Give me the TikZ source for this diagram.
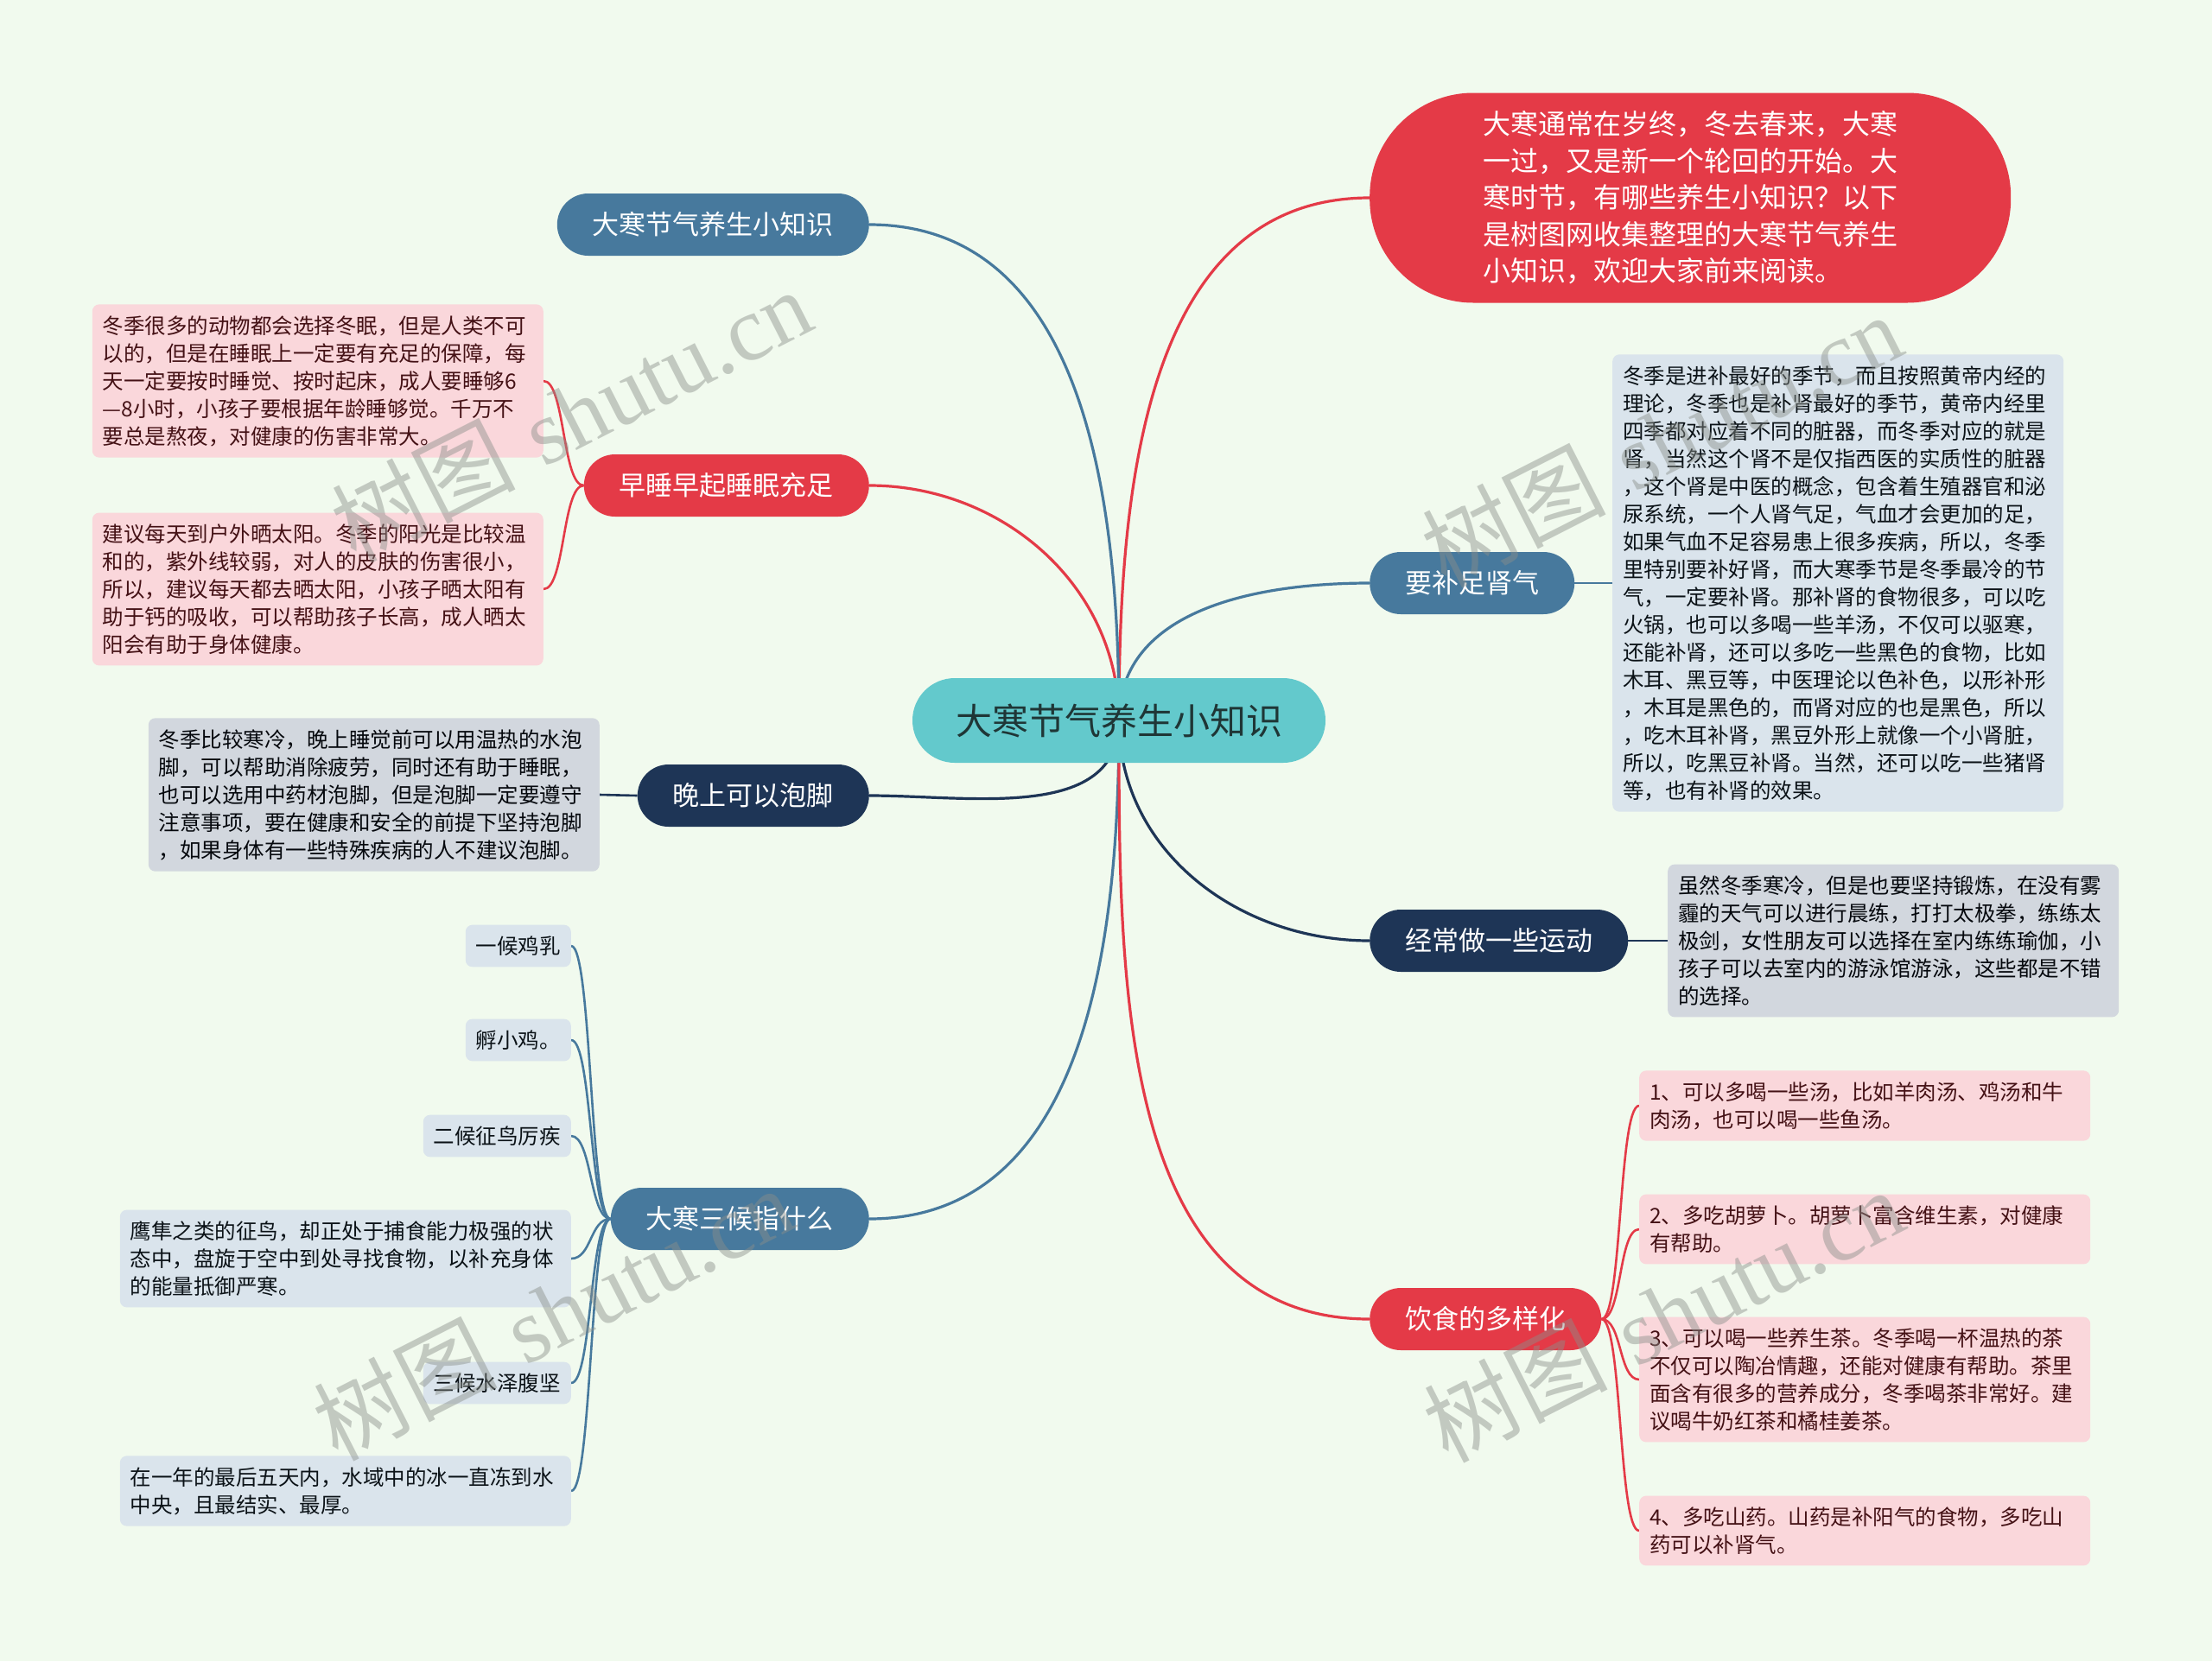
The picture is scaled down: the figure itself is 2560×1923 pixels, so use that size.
\documentclass[tikz,border=0pt]{standalone}
\usepackage{fontspec}
\setmainfont{Noto Sans CJK SC}
\newfontfamily\wmfont{Liberation Serif}
\usetikzlibrary{backgrounds}
\definecolor{bgcol}{HTML}{F1FAEE}
\definecolor{hanred}{HTML}{E43A47}
\definecolor{hanblue}{HTML}{47799D}
\definecolor{hannavy}{HTML}{1E3556}
\definecolor{hanteal}{HTML}{63C9CC}
\definecolor{hubtext}{HTML}{1F3636}
\definecolor{leafpink}{HTML}{FAD7DB}
\definecolor{leafblue}{HTML}{DAE4EC}
\definecolor{leafgray}{HTML}{D2D7DE}
\definecolor{wmgray}{HTML}{8A8F8A}

\begin{document}
\begin{tikzpicture}[
  x=1pt, y=1pt,
  hub/.style={fill=hanteal, rounded corners=49pt, minimum height=98pt, inner xsep=50pt, text=hubtext, font=\fontsize{42}{50}\selectfont},
  branch/.style={rounded corners=36pt, minimum height=72pt, inner xsep=41pt, inner ysep=0pt, text=white, font=\fontsize{31}{38}\selectfont},
  leaf/.style={rounded corners=8pt, inner xsep=12pt, inner ysep=13pt, align=left, font=\fontsize{24.5}{32}\selectfont},
  wide/.style={leaf, text width=498pt},
  redleaf/.style={fill=leafpink, text=black!70!hanred},
  blueleaf/.style={fill=leafblue, text=black!85!hanblue},
  grayleaf/.style={fill=leafgray, text=black!85!hannavy},
  link/.style={line width=3.2pt},
  twig/.style={line width=2.6pt},
  wmark/.style={rotate=27, text=wmgray, opacity=0.45, font=\fontsize{106}{106}\selectfont}
]
\useasboundingbox (0,0) rectangle (2560,-1923);

% centre and intro
\node[hub] (hub) at (1295,-834) {大寒节气养生小知识};
\node[branch, fill=hanred, anchor=west, minimum width=742pt, minimum height=243pt, rounded corners=120pt, align=left, font=\fontsize{32}{42.5}\selectfont] (intro) at (1585,-229)
  {大寒通常在岁终，冬去春来，大寒\\一过，又是新一个轮回的开始。大\\寒时节，有哪些养生小知识？以下\\是树图网收集整理的大寒节气养生\\小知识，欢迎大家前来阅读。};

% left branches
\node[branch, fill=hanblue, anchor=east] (topic) at (1006,-260) {大寒节气养生小知识};
\node[branch, fill=hanred, anchor=east] (sleep) at (1006,-562) {早睡早起睡眠充足};
\node[branch, fill=hannavy, anchor=east] (foot) at (1006,-921) {晚上可以泡脚};
\node[branch, fill=hanblue, anchor=east] (hou) at (1006,-1411) {大寒三候指什么};

% right branches
\node[branch, fill=hanblue, anchor=west] (kidney) at (1585,-675) {要补足肾气};
\node[branch, fill=hannavy, anchor=west] (sport) at (1585,-1089) {经常做一些运动};
\node[branch, fill=hanred, anchor=west] (diet) at (1585,-1527) {饮食的多样化};

% leaves: sleep
\node[wide, redleaf, anchor=east] (sleepa) at (629,-441)
  {冬季很多的动物都会选择冬眠，但是人类不可\\以的，但是在睡眠上一定要有充足的保障，每\\天一定要按时睡觉、按时起床，成人要睡够6\\—8小时，小孩子要根据年龄睡够觉。千万不\\要总是熬夜，对健康的伤害非常大。};
\node[wide, redleaf, anchor=east] (sleepb) at (629,-682)
  {建议每天到户外晒太阳。冬季的阳光是比较温\\和的，紫外线较弱，对人的皮肤的伤害很小，\\所以，建议每天都去晒太阳，小孩子晒太阳有\\助于钙的吸收，可以帮助孩子长高，成人晒太\\阳会有助于身体健康。};

% leaves: foot
\node[wide, grayleaf, anchor=east] (foota) at (694,-920)
  {冬季比较寒冷，晚上睡觉前可以用温热的水泡\\脚，可以帮助消除疲劳，同时还有助于睡眠，\\也可以选用中药材泡脚，但是泡脚一定要遵守\\注意事项，要在健康和安全的前提下坚持泡脚\\，如果身体有一些特殊疾病的人不建议泡脚。};

% leaves: hou
\node[leaf, blueleaf, anchor=east] (houa) at (661,-1095) {一候鸡乳};
\node[leaf, blueleaf, anchor=east] (houb) at (661,-1204) {孵小鸡。};
\node[leaf, blueleaf, anchor=east] (houc) at (661,-1315) {二候征鸟厉疾};
\node[wide, blueleaf, anchor=east] (houd) at (661,-1457)
  {鹰隼之类的征鸟，却正处于捕食能力极强的状\\态中，盘旋于空中到处寻找食物，以补充身体\\的能量抵御严寒。};
\node[leaf, blueleaf, anchor=east] (houe) at (661,-1601) {三候水泽腹坚};
\node[wide, blueleaf, anchor=east] (houf) at (661,-1726)
  {在一年的最后五天内，水域中的冰一直冻到水\\中央，且最结实、最厚。};

% leaves: kidney, sport
\node[wide, blueleaf, anchor=west] (kidneya) at (1866,-675)
  {冬季是进补最好的季节，而且按照黄帝内经的\\理论，冬季也是补肾最好的季节，黄帝内经里\\四季都对应着不同的脏器，而冬季对应的就是\\肾，当然这个肾不是仅指西医的实质性的脏器\\，这个肾是中医的概念，包含着生殖器官和泌\\尿系统，一个人肾气足，气血才会更加的足，\\如果气血不足容易患上很多疾病，所以，冬季\\里特别要补好肾，而大寒季节是冬季最冷的节\\气，一定要补肾。那补肾的食物很多，可以吃\\火锅，也可以多喝一些羊汤，不仅可以驱寒，\\还能补肾，还可以多吃一些黑色的食物，比如\\木耳、黑豆等，中医理论以色补色，以形补形\\，木耳是黑色的，而肾对应的也是黑色，所以\\，吃木耳补肾，黑豆外形上就像一个小肾脏，\\所以，吃黑豆补肾。当然，还可以吃一些猪肾\\等，也有补肾的效果。};
\node[wide, grayleaf, anchor=west] (sporta) at (1930,-1089)
  {虽然冬季寒冷，但是也要坚持锻炼，在没有雾\\霾的天气可以进行晨练，打打太极拳，练练太\\极剑，女性朋友可以选择在室内练练瑜伽，小\\孩子可以去室内的游泳馆游泳，这些都是不错\\的选择。};

% leaves: diet
\node[wide, redleaf, anchor=west] (dieta) at (1897,-1280)
  {1、可以多喝一些汤，比如羊肉汤、鸡汤和牛\\肉汤，也可以喝一些鱼汤。};
\node[wide, redleaf, anchor=west] (dietb) at (1897,-1423)
  {2、多吃胡萝卜。胡萝卜富含维生素，对健康\\有帮助。};
\node[wide, redleaf, anchor=west] (dietc) at (1897,-1597)
  {3、可以喝一些养生茶。冬季喝一杯温热的茶\\不仅可以陶冶情趣，还能对健康有帮助。茶里\\面含有很多的营养成分，冬季喝茶非常好。建\\议喝牛奶红茶和橘桂姜茶。};
\node[wide, redleaf, anchor=west] (dietd) at (1897,-1772)
  {4、多吃山药。山药是补阳气的食物，多吃山\\药可以补肾气。};

\begin{scope}[on background layer]
\fill[bgcol] (0,0) rectangle (2560,-1923);
% centre links
\draw[link, hanred] (hub.center) to[out=90, in=180] (intro.west);
\draw[link, hanblue] (hub.center) to[out=90, in=0] (topic.east);
\draw[link, hanred] (hub.center) to[out=90, in=0] (sleep.east);
\draw[link, hannavy] (hub.center) to[out=-90, in=0] (foot.east);
\draw[link, hanblue] (hub.center) to[out=-90, in=0] (hou.east);
\draw[link, hanblue] (hub.center) to[out=90, in=180] (kidney.west);
\draw[link, hannavy] (hub.center) to[out=-90, in=180] (sport.west);
\draw[link, hanred] (hub.center) to[out=-90, in=180] (diet.west);
% leaf twigs
\foreach \l in {sleepa, sleepb}
  \draw[twig, hanred] (sleep.west) .. controls +(-25,0) and +(25,0) .. (\l.east);
\foreach \l in {houa, houb, houc, houd, houe, houf}
  \draw[twig, hanblue] (hou.west) .. controls +(-24,0) and +(24,0) .. (\l.east);
\foreach \l in {dieta, dietb, dietc, dietd}
  \draw[twig, hanred] (diet.east) .. controls +(24,0) and +(-24,0) .. (\l.west);
\draw[twig, hannavy] (foot.west) -- (foota.east);
\draw[twig, hanblue] (kidney.east) -- (kidneya.west);
\draw[twig, hannavy] (sport.east) -- (sporta.west);
\end{scope}

% watermarks
\node[wmark] (wma) at (661,-480) {树图\hspace{0.3em}{\wmfont shutu.cn}};
\node[wmark] (wmb) at (1923,-509) {树图\hspace{0.3em}{\wmfont shutu.cn}};
\node[wmark] (wmc) at (640,-1520) {树图\hspace{0.3em}{\wmfont shutu.cn}};
\node[wmark] (wmd) at (1925,-1522) {树图\hspace{0.3em}{\wmfont shutu.cn}};
\end{tikzpicture}
\end{document}
